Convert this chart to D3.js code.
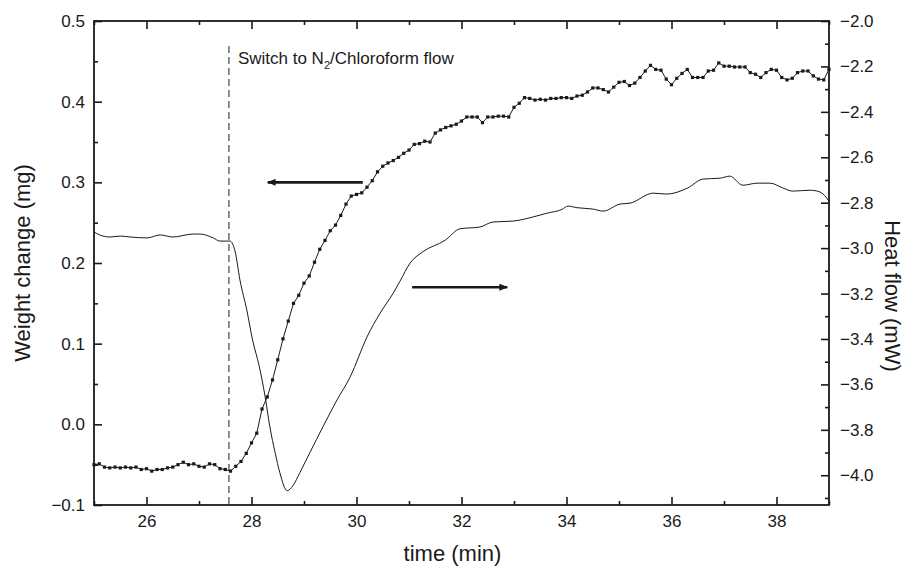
<!DOCTYPE html>
<html>
<head>
<meta charset="utf-8">
<script src="https://cdn.jsdelivr.net/npm/d3@7"></script>
<style>
  body { margin: 0; background: #fff; }
  svg text { font-family: "Liberation Sans", Arial, sans-serif; fill: #1a1a1a; }
  .narrow { font-family: "Liberation Sans Narrow", "Liberation Sans", Arial, sans-serif; }
</style>
</head>
<body>
<svg id="chart" width="908" height="575"></svg>
<script>
// Weight change (mg), left axis: [time (min), value]
const weightData = [
  [25.0,-0.050],[25.1,-0.049],[25.2,-0.053],[25.3,-0.054],[25.4,-0.053],[25.5,-0.054],[25.6,-0.053],[25.7,-0.054],[25.8,-0.053],[25.9,-0.056],
  [26.0,-0.055],[26.1,-0.058],[26.2,-0.056],[26.3,-0.056],[26.4,-0.054],[26.5,-0.053],[26.6,-0.050],[26.7,-0.047],[26.8,-0.050],[26.9,-0.049],
  [27.0,-0.052],[27.1,-0.053],[27.2,-0.049],[27.3,-0.050],[27.4,-0.055],[27.5,-0.056],[27.6,-0.058],[27.7,-0.052],[27.8,-0.046],[27.9,-0.036],
  [28.0,-0.023],[28.1,-0.011],[28.2,0.019],[28.3,0.034],[28.4,0.055],[28.5,0.080],[28.6,0.106],[28.7,0.128],[28.8,0.150],[28.9,0.160],
  [29.0,0.175],[29.1,0.184],[29.2,0.201],[29.3,0.217],[29.4,0.228],[29.5,0.240],[29.6,0.247],[29.7,0.259],[29.8,0.273],[29.9,0.283],
  [30.0,0.285],[30.1,0.287],[30.2,0.294],[30.3,0.302],[30.4,0.313],[30.5,0.320],[30.6,0.324],[30.7,0.327],[30.8,0.331],[30.9,0.336],
  [31.0,0.340],[31.1,0.347],[31.2,0.348],[31.3,0.351],[31.4,0.350],[31.5,0.361],[31.6,0.365],[31.7,0.368],[31.8,0.370],[31.9,0.372],
  [32.0,0.376],[32.1,0.381],[32.2,0.381],[32.3,0.381],[32.4,0.374],[32.5,0.381],[32.6,0.381],[32.7,0.382],[32.8,0.382],[32.9,0.381],
  [33.0,0.393],[33.1,0.398],[33.2,0.405],[33.3,0.404],[33.4,0.402],[33.5,0.403],[33.6,0.402],[33.7,0.404],[33.8,0.404],[33.9,0.405],
  [34.0,0.405],[34.1,0.404],[34.2,0.407],[34.3,0.408],[34.4,0.412],[34.5,0.417],[34.6,0.417],[34.7,0.415],[34.8,0.412],[34.9,0.418],
  [35.0,0.424],[35.1,0.425],[35.2,0.420],[35.3,0.423],[35.4,0.430],[35.5,0.438],[35.6,0.445],[35.7,0.440],[35.8,0.439],[35.9,0.428],
  [36.0,0.421],[36.1,0.429],[36.2,0.435],[36.3,0.440],[36.4,0.430],[36.5,0.430],[36.6,0.430],[36.7,0.438],[36.8,0.439],[36.9,0.448],
  [37.0,0.444],[37.1,0.444],[37.2,0.443],[37.3,0.443],[37.4,0.443],[37.5,0.436],[37.6,0.434],[37.7,0.430],[37.8,0.436],[37.9,0.440],
  [38.0,0.439],[38.1,0.430],[38.2,0.427],[38.3,0.429],[38.4,0.436],[38.5,0.438],[38.6,0.438],[38.7,0.432],[38.8,0.428],[38.9,0.427],
  [39.0,0.440]
];

// Heat flow (mW), right axis: [time (min), value]
const heatData = [
  [25.0,-2.929],[25.11,-2.942],[25.3,-2.951],[25.5,-2.947],[25.69,-2.951],[26.01,-2.955],[26.26,-2.942],[26.5,-2.951],
  [26.89,-2.938],[27.02,-2.938],[27.27,-2.955],[27.4,-2.969],[27.59,-2.969],[27.69,-3.017],[27.78,-3.140],[27.91,-3.272],
  [28.02,-3.404],[28.15,-3.523],[28.26,-3.655],[28.35,-3.787],[28.45,-3.901],[28.54,-3.989],[28.68,-4.068],[28.79,-4.046],
  [28.92,-3.989],[29.11,-3.901],[29.36,-3.787],[29.63,-3.668],[29.88,-3.567],[30.2,-3.391],[30.45,-3.286],[30.7,-3.198],
  [30.83,-3.145],[31.02,-3.066],[31.25,-3.018],[31.69,-2.965],[31.97,-2.915],[32.35,-2.907],[32.6,-2.885],[32.98,-2.881],
  [33.36,-2.863],[33.63,-2.846],[33.91,-2.830],[34.03,-2.815],[34.2,-2.822],[34.5,-2.828],[34.7,-2.837],[35.02,-2.806],
  [35.21,-2.802],[35.65,-2.758],[35.91,-2.762],[36.3,-2.736],[36.6,-2.696],[36.93,-2.692],[37.11,-2.683],[37.36,-2.723],
  [37.63,-2.714],[37.88,-2.714],[38.13,-2.736],[38.31,-2.749],[38.64,-2.745],[38.83,-2.753],[39.0,-2.793]
];

// Axis ticks
const xMajor = [26, 28, 30, 32, 34, 36, 38];
const xMinor = [25, 27, 29, 31, 33, 35, 37, 39];
const leftMajor = [-0.1, 0.0, 0.1, 0.2, 0.3, 0.4, 0.5];
const leftMinor = [-0.05, 0.05, 0.15, 0.25, 0.35, 0.45];
const rightMajor = [-4.0, -3.8, -3.6, -3.4, -3.2, -3.0, -2.8, -2.6, -2.4, -2.2, -2.0];
const rightMinor = [-4.1, -3.9, -3.7, -3.5, -3.3, -3.1, -2.9, -2.7, -2.5, -2.3, -2.1];

// Annotations: switch time, arrows [t1, t2, weight-axis level]
const switchTime = 27.57;
const arrows = [
  { from: 30.12, to: 28.31, level: 0.30 },
  { from: 31.06, to: 32.87, level: 0.17 }
];

const svg = d3.select("#chart");
const margin = { top: 21, right: 79, bottom: 70, left: 94 };
const width = 908, height = 575;

const x = d3.scaleLinear().domain([25, 39]).range([margin.left, width - margin.right]);
const yL = d3.scaleLinear().domain([-0.1, 0.5]).range([height - margin.bottom, margin.top]);
const yR = d3.scaleLinear().domain([-4.131, -2.0]).range([height - margin.bottom, margin.top]);

const ink = "#1a1a1a";

// bottom axis
const gBottom = svg.append("g").attr("transform", `translate(0,${height - margin.bottom})`);
gBottom.call(d3.axisBottom(x).tickValues(xMajor).tickSize(-8).tickSizeOuter(0).tickPadding(10).tickFormat(d3.format("d")));
gBottom.append("g").call(d3.axisBottom(x).tickValues(xMinor).tickSize(-4).tickSizeOuter(0).tickFormat(""));
gBottom.selectAll("text").attr("class", "narrow").attr("font-size", 17).style("fill", ink);

// top axis (mirror ticks)
const gTop = svg.append("g").attr("transform", `translate(0,${margin.top})`);
gTop.call(d3.axisTop(x).tickValues(xMajor).tickSize(-8).tickSizeOuter(0).tickFormat(""));
gTop.append("g").call(d3.axisTop(x).tickValues(xMinor).tickSize(-4).tickSizeOuter(0).tickFormat(""));

// left axis
const gLeft = svg.append("g").attr("transform", `translate(${margin.left},0)`);
gLeft.call(d3.axisLeft(yL).tickValues(leftMajor).tickSize(-8).tickSizeOuter(0).tickPadding(9).tickFormat(d3.format(".1f")));
gLeft.append("g").call(d3.axisLeft(yL).tickValues(leftMinor).tickSize(-4).tickSizeOuter(0).tickFormat(""));
gLeft.selectAll("text").attr("font-size", 17).style("fill", ink);

// right axis
const gRight = svg.append("g").attr("transform", `translate(${width - margin.right},0)`);
gRight.call(d3.axisRight(yR).tickValues(rightMajor).tickSize(-8).tickSizeOuter(0).tickPadding(11).tickFormat(d3.format(".1f")));
gRight.append("g").call(d3.axisRight(yR).tickValues(rightMinor).tickSize(-4).tickSizeOuter(0).tickFormat(""));
gRight.selectAll("text").attr("font-size", 17).style("fill", ink);

svg.selectAll(".domain").remove();
svg.selectAll(".tick line").attr("stroke", ink).attr("stroke-width", 1.6);

// frame
svg.append("rect")
  .attr("x", margin.left).attr("y", margin.top)
  .attr("width", width - margin.left - margin.right)
  .attr("height", height - margin.top - margin.bottom)
  .attr("fill", "none").attr("stroke", ink).attr("stroke-width", 1.8);

// switch line
svg.append("line")
  .attr("x1", x(switchTime)).attr("x2", x(switchTime))
  .attr("y1", 46).attr("y2", height - margin.bottom)
  .attr("stroke", "#444").attr("stroke-width", 1.2).attr("stroke-dasharray", "7,4");

const note = svg.append("text").attr("x", x(switchTime) + 9).attr("y", 64).attr("font-size", 17);
note.append("tspan").text("Switch to N");
note.append("tspan").attr("font-size", 11).attr("dy", 5).text("2");
note.append("tspan").attr("dy", -5).text("/Chloroform flow");

// heat flow line
svg.append("path")
  .datum(heatData)
  .attr("fill", "none").attr("stroke", ink).attr("stroke-width", 1)
  .attr("d", d3.line().x(d => x(d[0])).y(d => yR(d[1])).curve(d3.curveMonotoneX));

// weight line + markers
svg.append("path")
  .datum(weightData)
  .attr("fill", "none").attr("stroke", ink).attr("stroke-width", 1)
  .attr("d", d3.line().x(d => x(d[0])).y(d => yL(d[1])));

svg.append("g")
  .selectAll("rect")
  .data(weightData)
  .enter()
  .append("rect")
    .attr("x", d => x(d[0]) - 1.6)
    .attr("y", d => yL(d[1]) - 1.6)
    .attr("width", 3.2).attr("height", 3.2)
    .attr("fill", ink);

// arrows
svg.append("defs").append("marker")
  .attr("id", "head").attr("viewBox", "0 0 10 8")
  .attr("refX", 9).attr("refY", 4)
  .attr("markerWidth", 10).attr("markerHeight", 7)
  .attr("markerUnits", "userSpaceOnUse")
  .attr("orient", "auto")
  .append("path").attr("d", "M0,0 L10,4 L0,8 Z").attr("fill", ink);

svg.append("g")
  .selectAll("line")
  .data(arrows)
  .enter()
  .append("line")
    .attr("x1", d => x(d.from)).attr("x2", d => x(d.to))
    .attr("y1", d => yL(d.level)).attr("y2", d => yL(d.level))
    .attr("stroke", ink).attr("stroke-width", 2.6)
    .attr("marker-end", "url(#head)");

// axis titles
svg.append("text")
  .attr("class", "narrow")
  .attr("x", (margin.left + width - margin.right) / 2 - 9)
  .attr("y", 561)
  .attr("text-anchor", "middle")
  .attr("font-size", 22)
  .text("time (min)");

svg.append("text")
  .attr("transform", "rotate(-90)")
  .attr("x", -263)
  .attr("y", 30)
  .attr("text-anchor", "middle")
  .attr("font-size", 22)
  .text("Weight change (mg)");

svg.append("text")
  .attr("transform", "rotate(90)")
  .attr("x", 296)
  .attr("y", -885)
  .attr("text-anchor", "middle")
  .attr("font-size", 22)
  .text("Heat flow (mW)");
</script>
</body>
</html>
